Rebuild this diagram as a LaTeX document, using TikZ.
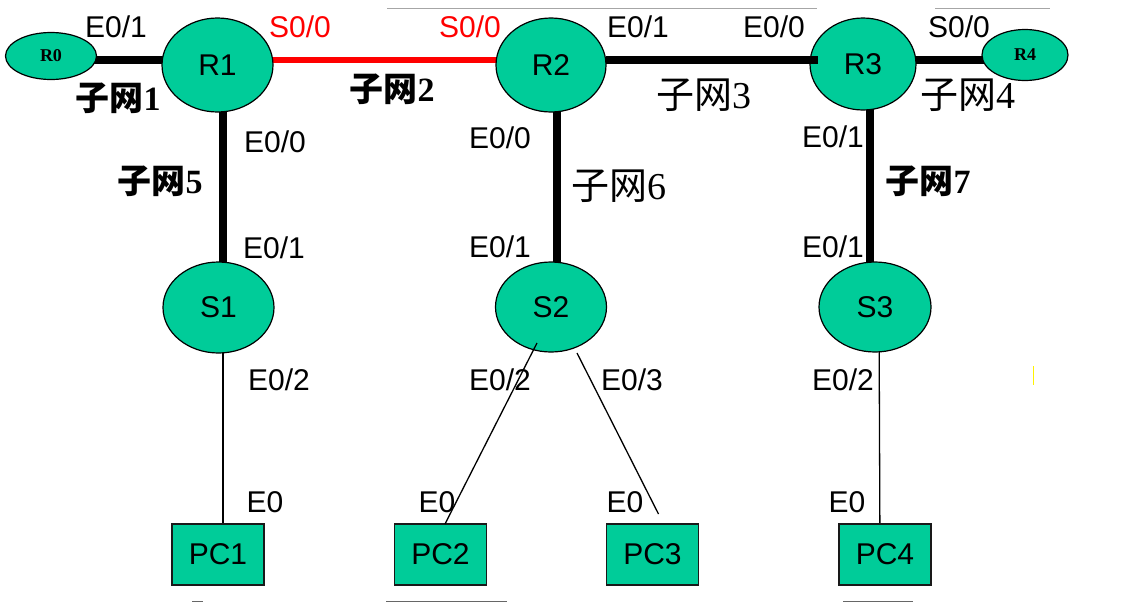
\documentclass[tikz,border=0pt]{standalone}
\usepackage{fontspec}
\setmainfont{Liberation Serif}
\setsansfont{Liberation Sans}
\newfontfamily\cjk{Noto Sans CJK SC}
\newfontfamily\lsans{Liberation Sans}
\newfontfamily\lserif{Liberation Serif}
\usetikzlibrary{shapes.geometric,backgrounds}
\definecolor{mint}{RGB}{0,204,153}
\begin{document}
\begin{tikzpicture}[x=1pt,y=-1pt,
  dev/.style={ellipse, draw=black, line width=1.2pt, fill=mint, inner sep=0pt, outer sep=0pt, font=\lsans\fontsize{30}{30}\selectfont},
  smalldev/.style={dev, font=\lserif\bfseries\fontsize{18}{18}\selectfont},
  pcbox/.style={rectangle, draw=black!90, line width=1.5pt, fill=mint, minimum width=92pt, minimum height=61pt, inner sep=0pt, outer sep=0pt, font=\lsans\fontsize{30}{30}\selectfont},
  port/.style={anchor=base, inner sep=0pt, font=\lsans\fontsize{30}{30}\selectfont},
  serialport/.style={port, text=red},
  subnetb/.style={anchor=base, inner sep=0pt, font=\fontsize{34}{34}\selectfont\bfseries},
  subnetl/.style={anchor=base, inner sep=0pt, font=\fontsize{38}{38}\selectfont},
  trunk/.style={line width=7.5pt, black},
  serialline/.style={line width=6pt, red},
  access/.style={line width=1.3pt, black},
  artifact/.style={line width=1pt, gray!70}
]
\useasboundingbox (0,0) rectangle (1125,603);

% devices
\node[smalldev, minimum width=91pt, minimum height=47pt] (R0) at (51,56) {R0};
\node[dev, minimum width=111pt, minimum height=94pt] (R1) at (217.5,65) {R1};
\node[dev, minimum width=110pt, minimum height=94pt] (R2) at (551,65) {R2};
\node[dev, minimum width=106pt, minimum height=92pt] (R3) at (863,64) {R3};
\node[smalldev, minimum width=86pt, minimum height=51pt] (R4) at (1025,55) {R4};
\node[dev, minimum width=111pt, minimum height=91pt] (S1) at (218.5,307.5) {S1};
\node[dev, minimum width=111pt, minimum height=90pt] (S2) at (551,307) {S2};
\node[dev, minimum width=112pt, minimum height=90pt] (S3) at (875,307) {S3};
\node[pcbox] (PC1) at (218,554.5) {PC1};
\node[pcbox] (PC2) at (440.5,554.5) {PC2};
\node[pcbox] (PC3) at (652.5,554.5) {PC3};
\node[pcbox] (PC4) at (885,554.5) {PC4};

\coordinate (toprow) at (0,60);

% connectors behind the devices
\begin{scope}[on background layer]
  \draw[trunk] (R0 |- toprow) -- (R1 |- toprow);
  \draw[serialline] (R1 |- toprow) -- (R2 |- toprow);
  \draw[trunk] (R3 |- toprow) -- (R4 |- toprow);
  \draw[trunk] ([xshift=5.5pt]R1.center) -- ([xshift=4.5pt]S1.center);
  \draw[trunk] ([xshift=6pt]R2.center) -- ([xshift=6pt]S2.center);
  \draw[trunk] ([xshift=7pt]R3.center) -- ([xshift=-5pt]S3.center);
  \draw[access] ([xshift=4.5pt]S1.center) -- ([xshift=5pt]PC1.center);
  \draw[access] ([xshift=4pt]S3.center) -- ([xshift=-5pt]PC4.center);
\end{scope}

% connectors on top
\draw[trunk] (R2.east |- toprow) -- ([xshift=8pt]R3.west |- toprow);
\draw[access] ([shift={(-14,36)}]S2.center) -- ([xshift=4.5pt]PC2.north);
\draw[access] ([shift={(26,46)}]S2.center) -- ([shift={(6,-10)}]PC3.north);

% port labels
\node[port] (p1) at (116,37) {E0/1};
\node[serialport] (p2) at (300,37) {S0/0};
\node[serialport] (p3) at (470,37) {S0/0};
\node[port] (p4) at (638,37) {E0/1};
\node[port] (p5) at (774,37) {E0/0};
\node[port] (p6) at (959,37) {S0/0};

\node[port] (p7) at (275,152) {E0/0};
\node[port] (p8) at (274,258) {E0/1};
\node[port] (p9) at (279,390) {E0/2};
\node[port] (p10) at (265,512) {E0};

\node[port] (p11) at (500,148) {E0/0};
\node[port] (p12) at (500,257) {E0/1};
\node[port] (p13) at (500,390) {E0/2};
\node[port] (p14) at (632,390) {E0/3};
\node[port] (p15) at (437,512) {E0};
\node[port] (p16) at (625,512) {E0};

\node[port] (p17) at (833,147) {E0/1};
\node[port] (p18) at (833,257) {E0/1};
\node[port] (p19) at (843,390) {E0/2};
\node[port] (p20) at (847,512) {E0};

% subnet labels
\node[subnetb] (n1) at (118,110) {{\cjk 子网}1};
\node[subnetb] (n2) at (392,101) {{\cjk 子网}2};
\node[subnetl] (n3) at (704,108) {{\cjk 子网}3};
\node[subnetl] (n4) at (968,108) {{\cjk 子网}4};
\node[subnetb] (n5) at (160,193) {{\cjk 子网}5};
\node[subnetl] (n6) at (619,199) {{\cjk 子网}6};
\node[subnetb] (n7) at (928,193) {{\cjk 子网}7};

% stray marks in the original
\draw[artifact] (387,8) -- (817,8);
\draw[artifact] (935,8) -- (1050,8);
\draw[line width=1pt, gray!80!black] (192,601) -- (203,601);
\draw[line width=1pt, gray!80!black] (386,601) -- (507,601);
\draw[line width=1pt, gray!80!black] (843,601) -- (913,601);
\draw[line width=0.8pt, yellow] (1033,366) -- (1033,385);
\end{tikzpicture}
\end{document}
